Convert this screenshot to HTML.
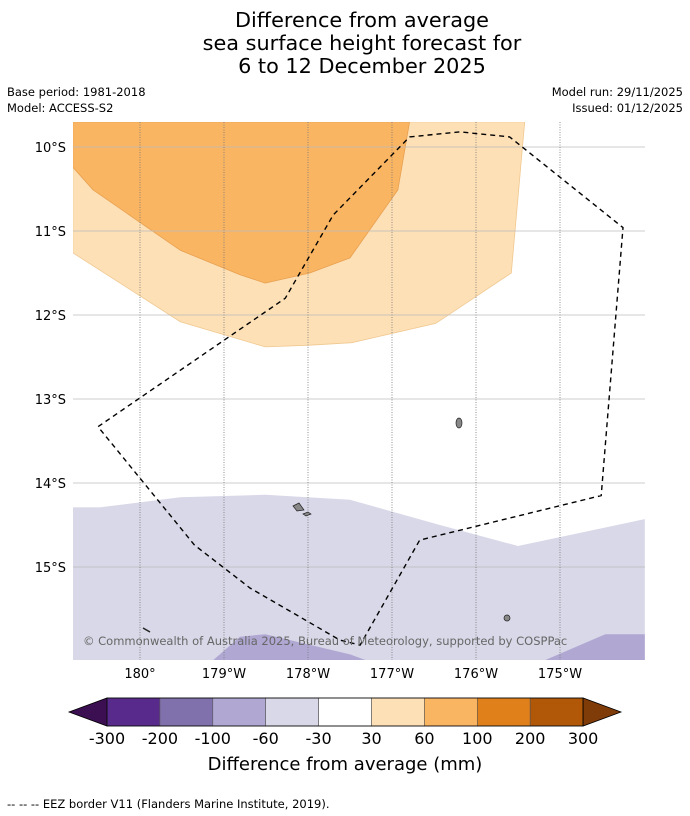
<!DOCTYPE html>
<html><head><meta charset="utf-8">
<style>
body{margin:0;background:#fff;font-family:"Liberation Sans","DejaVu Sans",sans-serif;}
#wrap{position:relative;width:690px;height:816px;overflow:hidden;}
</style></head>
<body>
<div id="wrap">
<svg id="svg" width="690" height="816" xmlns="http://www.w3.org/2000/svg" font-family="DejaVu Sans, Liberation Sans, sans-serif">
<g font-size="20.8" text-anchor="middle" fill="#000">
<text x="362" y="27">Difference from average</text>
<text x="362" y="50">sea surface height forecast for</text>
<text x="362" y="73">6 to 12 December 2025</text>
</g>
<g font-size="11.5" fill="#000">
<text x="7" y="96">Base period: 1981-2018</text>
<text x="7" y="112">Model: ACCESS-S2</text>
<text x="683" y="96" text-anchor="end">Model run: 29/11/2025</text>
<text x="683" y="112" text-anchor="end">Issued: 01/12/2025</text>
</g>
<defs><clipPath id="mapclip"><rect x="73" y="122" width="572" height="538"/></clipPath></defs>
<g id="map" clip-path="url(#mapclip)"></g>
<g id="axes"></g>
<g id="cbar"></g>
<text x="345" y="770" font-size="18" text-anchor="middle">Difference from average (mm)</text>
<text x="7" y="808" font-size="11.5">--  --  -- EEZ border V11 (Flanders Marine Institute, 2019).</text>
</svg>
</div>
<script>
// lon in degrees east (179W = 181), lat in degrees south
const lonTicks=[180,181,182,183,184,185];
const lonLabels=["180°","179°W","178°W","177°W","176°W","175°W"];
const latTicks=[10,11,12,13,14,15];
const latLabels=["10°S","11°S","12°S","13°S","14°S","15°S"];
const band60to100=[[179.2,9.7],[183.21,9.7],[183.07,10.51],[182.5,11.32],[182.02,11.5],[181.49,11.62],[181.19,11.52],[180.48,11.23],[179.44,10.51],[179.2,10.24]];
const band30to60=[[179.2,9.7],[184.58,9.7],[184.42,11.5],[183.52,12.1],[182.52,12.33],[182.02,12.36],[181.49,12.38],[180.48,12.08],[179.2,11.26]];
const bandm60tom30=[[179.2,14.29],[179.52,14.29],[180.48,14.17],[181.49,14.14],[182.5,14.2],[183.57,14.5],[184.5,14.75],[186.01,14.43],[186.01,16.2],[179.2,16.2]];
const bandm100a=[[180.87,16.11],[181.19,15.83],[181.49,15.8],[182.5,16.04],[182.69,16.11]];
const bandm100b=[[184.82,16.11],[185.54,15.8],[186.01,15.8],[186.01,16.11]];
const eez=[[183.21,9.88],[183.81,9.82],[184.4,9.88],[185.75,10.96],[185.49,14.15],[183.33,14.68],[182.62,15.93],[182.38,15.87],[181.31,15.25],[180.65,14.74],[179.5,13.33],[181.73,11.8],[182.3,10.81],[183.21,9.88]];
const cbLabels=["-300","-200","-100","-60","-30","30","60","100","200","300"];
const cbColors=["#582a8c","#8070ac","#b0a8d2","#d8d8e8","#ffffff","#fde0b6","#f9b562","#e0801a","#b05808"];

const X=lon=>140+(lon-180)*84;
const Y=lat=>147+(lat-10)*84;
const NS="http://www.w3.org/2000/svg";
function mk(tag,attrs,parent){const e=document.createElementNS(NS,tag);for(const k in attrs)e.setAttribute(k,attrs[k]);parent.appendChild(e);return e;}
const map=document.getElementById('map'),axes=document.getElementById('axes'),cbar=document.getElementById('cbar');
const pts=a=>a.map(p=>X(p[0]).toFixed(1)+','+Y(p[1]).toFixed(1)).join(' ');
let e;
e=mk('polygon',{points:pts(band30to60),fill:'#fde0b6',stroke:'#f0c890','stroke-width':0.8},map);

e=mk('polygon',{points:pts(band60to100),fill:'#f9b562',stroke:'#e8a050','stroke-width':0.8},map);

e=mk('polygon',{points:pts(bandm60tom30),fill:'#d8d8e8'},map);

e=mk('polygon',{points:pts(bandm100a),fill:'#b0a8d2'},map);

e=mk('polygon',{points:pts(bandm100b),fill:'#b0a8d2'},map);

latTicks.forEach((v,i)=>{
  e=mk('line',{x1:73,x2:645,y1:Y(v),y2:Y(v),stroke:'#bbb','stroke-width':0.8},map);
  
  e=mk('text',{x:66,y:Y(v)+5,'font-size':13,'text-anchor':'end'},axes);e.textContent=latLabels[i];
  
});
lonTicks.forEach((v,i)=>{
  e=mk('line',{x1:X(v),x2:X(v),y1:122,y2:660,stroke:'#777','stroke-width':0.8,'stroke-dasharray':'1,1.5'},map);
  
  e=mk('text',{x:X(v),y:678,'font-size':13,'text-anchor':'middle'},axes);e.textContent=lonLabels[i];
  
});
// islands
e=mk('ellipse',{cx:459,cy:423,rx:3,ry:5,fill:'#888',stroke:'#222','stroke-width':0.7},map);

e=mk('polygon',{points:'293,506 299,503 304,510 297,511',fill:'#888',stroke:'#222','stroke-width':0.7},map);

e=mk('polygon',{points:'303,514 308,512 311,514 306,516',fill:'#888',stroke:'#222','stroke-width':0.7},map);

e=mk('circle',{cx:507,cy:618,r:3,fill:'#888',stroke:'#222','stroke-width':0.7},map);

e=mk('line',{x1:143,y1:628,x2:150,y2:632,stroke:'#222','stroke-width':1.5},map);

e=mk('polyline',{points:pts(eez),fill:'none',stroke:'#000','stroke-width':1.4,'stroke-dasharray':'5,4'},map);

e=mk('text',{x:83,y:645,'font-size':11.5,fill:'#666'},map);e.textContent='© Commonwealth of Australia 2025, Bureau of Meteorology, supported by COSPPac';

// colorbar
const cx0=107,cw=52.9,cy=698,ch=28;
e=mk('polygon',{points:`${cx0},${cy} ${cx0},${cy+ch} 69,${cy+ch/2}`,fill:'#3c0f52',stroke:'#000','stroke-width':0.8},cbar);

cbColors.forEach((c,i)=>{
  e=mk('rect',{x:cx0+i*cw,y:cy,width:cw,height:ch,fill:c,stroke:'#555','stroke-width':0.6},cbar);
  
});
const cx1=cx0+cbColors.length*cw;
e=mk('polygon',{points:`${cx1},${cy} ${cx1},${cy+ch} 621,${cy+ch/2}`,fill:'#7f3b08',stroke:'#000','stroke-width':0.8},cbar);

e=mk('rect',{x:cx0,y:cy,width:cx1-cx0,height:ch,fill:'none',stroke:'#000','stroke-width':0.8},cbar);
cbLabels.forEach((l,i)=>{
  e=mk('text',{x:cx0+i*cw,y:744,'font-size':16,'text-anchor':'middle'},cbar);e.textContent=l;
  
});
</script>
</body></html>
